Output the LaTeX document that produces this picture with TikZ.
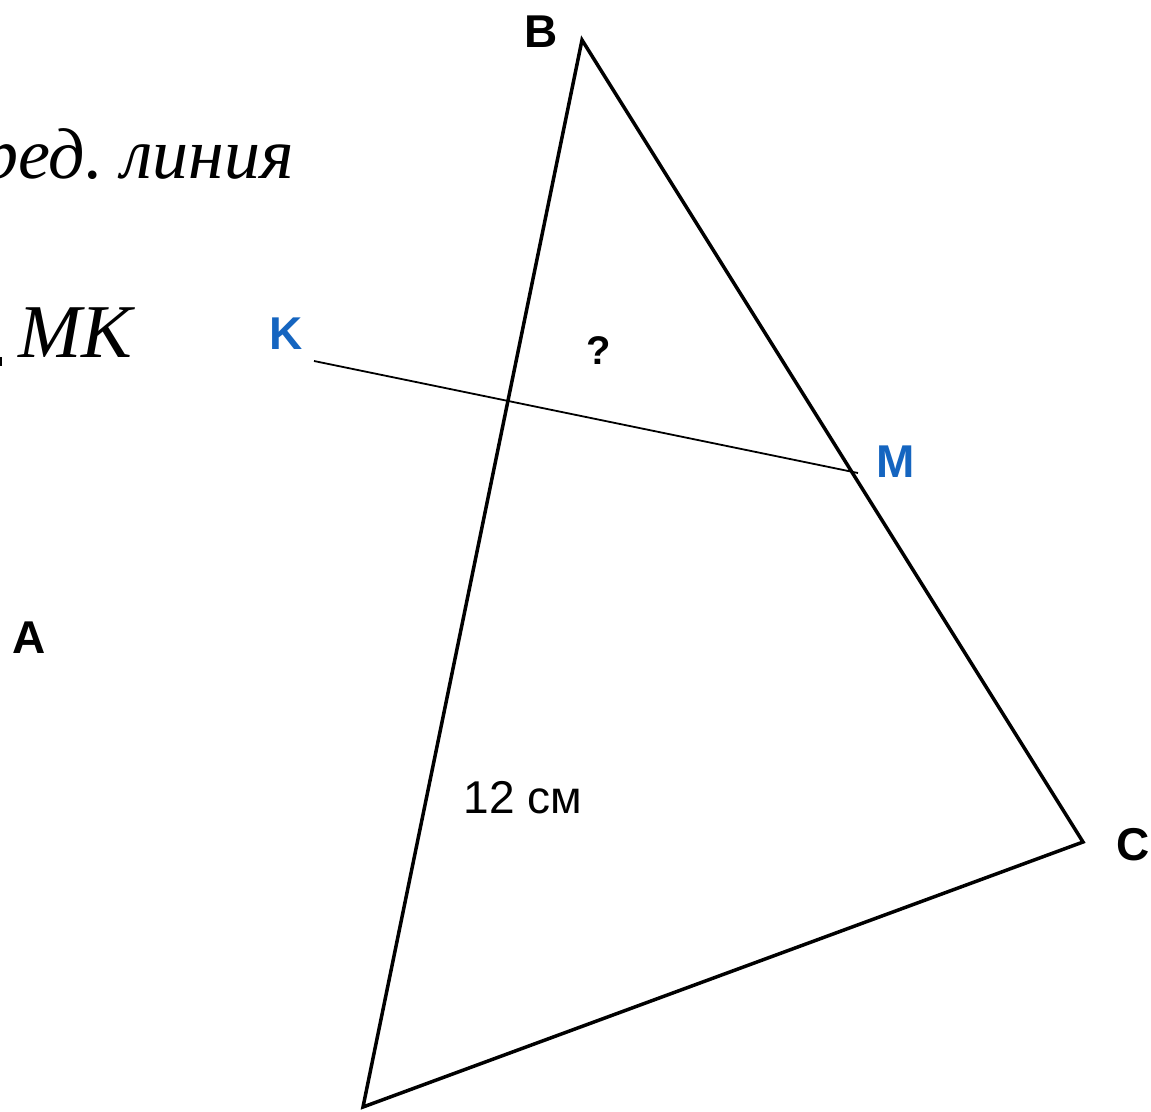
\documentclass[tikz,border=0pt]{standalone}
\usepackage{fontspec}
\setmainfont{Liberation Serif}
\newfontfamily\arialfont{Liberation Sans}
\definecolor{ptblue}{RGB}{21,101,192}

\begin{document}
\begin{tikzpicture}[x=1pt,y=-1pt,lbl/.style={font=\arialfont\bfseries\fontsize{46}{46}\selectfont,inner sep=0pt},ital/.style={font=\itshape\fontsize{76}{76}\selectfont,inner sep=0pt},side/.style={line width=3.5pt,line join=miter},mid/.style={line width=1.8pt}]
\useasboundingbox (0,0) rectangle (1151,1111);
\clip (0,0) rectangle (1151,1111);
% triangle and the segment KM
\coordinate (b) at (582,40); \coordinate (c) at (1083,842); \coordinate (a) at (363,1107);
\coordinate (k) at (314,361); \coordinate (m) at (858,473);
\draw[side] (b)--(c)--(a)--cycle;
\draw[mid] (k)--(m);
% labels
\node[lbl] (lb) at (541,32) {B};
\node[lbl] (lc) at (1133,845) {C};
\node[lbl] (la) at (29,638) {A};
\node[lbl,text=ptblue] (lk) at (286,334) {K};
\node[lbl,text=ptblue] (lm) at (896,462) {M};
\node[lbl,font=\arialfont\bfseries\fontsize{40}{40}\selectfont] (q) at (599,351) {?};
\node[font=\arialfont\fontsize{46}{46}\selectfont,inner sep=0pt] (len) at (523,798) {12 см};
% text at the left edge
\node[ital,font=\itshape\fontsize{72}{72}\selectfont,anchor=base east] (t1) at (294,178) {ред.\hskip0.25em линия};
\node[ital,anchor=base east] (t2) at (132,357) {МК};
\draw[line width=2pt] (1,357)--(1,366);
\end{tikzpicture}
\end{document}
